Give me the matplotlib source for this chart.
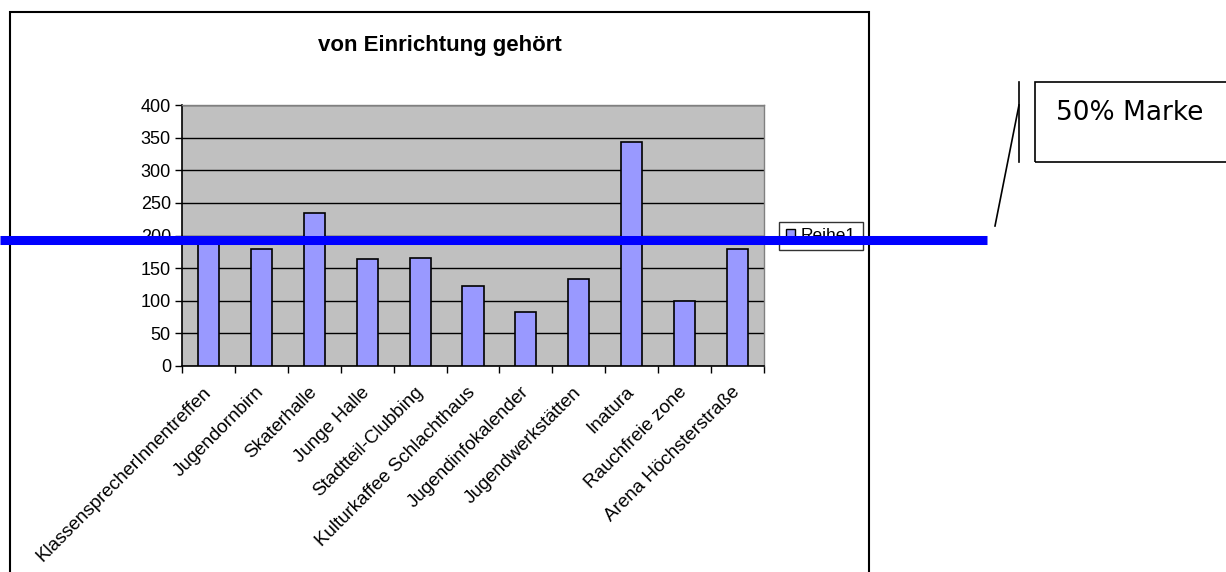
import matplotlib.pyplot as plt
from matplotlib.lines import Line2D
from matplotlib.patches import Patch, Rectangle

W, H = 1226, 572

einrichtungen = [
    "KlassensprecherInnentreffen",
    "Jugendornbirn",
    "Skaterhalle",
    "Junge Halle",
    "Stadtteil-Clubbing",
    "Kulturkaffee Schlachthaus",
    "Jugendinfokalender",
    "Jugendwerkstätten",
    "Inatura",
    "Rauchfreie zone",
    "Arena Höchsterstraße",
]
stimmen = [193, 179, 235, 164, 166, 123, 82, 134, 344, 100, 179]
y_ticks = [0, 50, 100, 150, 200, 250, 300, 350, 400]


def fx(px):
    return px / W


def fy(py):
    return 1 - py / H


plt.rcParams["font.family"] = ["Liberation Sans", "DejaVu Sans"]

fig = plt.figure(figsize=(W / 100, H / 100), dpi=100)
fig.patch.set_facecolor("white")

# Plot area
ax = fig.add_axes([fx(182), fy(366), fx(764) - fx(182), fy(105) - fy(366)])
ax.set_facecolor("#c0c0c0")
n = len(einrichtungen)
pos = list(range(n))
ax.bar(pos, stimmen, width=0.4, color="#9999ff", edgecolor="black",
       linewidth=1.2, zorder=3)
ax.set_xlim(-0.5, n - 0.5)
ax.set_ylim(0, 400)
ax.set_yticks(y_ticks)
ax.yaxis.grid(True, color="black", linewidth=1)
ax.set_axisbelow(True)

ax.set_xticks(pos)
ax.set_xticklabels(einrichtungen, rotation=45, ha="right", va="center",
                   rotation_mode="anchor", fontsize=13.5)
ax.tick_params(axis="x", which="major", length=0, pad=17)
ax.set_xticks([i - 0.5 for i in range(n + 1)], minor=True)
ax.tick_params(axis="x", which="minor", length=5, width=1, direction="out")
ax.tick_params(axis="y", length=5, width=1, direction="out", labelsize=13, pad=3)

for side in ("top", "right"):
    ax.spines[side].set_color("#808080")
    ax.spines[side].set_linewidth(1)
for side in ("left", "bottom"):
    ax.spines[side].set_color("black")
    ax.spines[side].set_linewidth(1.2)

# Title
fig.text(fx(440), fy(45), "von Einrichtung gehört", fontsize=16,
         fontweight="bold", ha="center", va="center")

# Legend
leg = fig.legend(
    handles=[Patch(facecolor="#9999ff", edgecolor="black", label="Reihe1")],
    loc="center left", bbox_to_anchor=(fx(779), fy(236)),
    frameon=True, fancybox=False, edgecolor="black", borderaxespad=0,
    handlelength=0.55, handleheight=0.55, handletextpad=0.3, borderpad=0.4,
    fontsize=12.5,
)
leg.get_frame().set_linewidth(1)

# Chart area border
fig.add_artist(Rectangle((fx(10), fy(580)), fx(869) - fx(10), fy(12) - fy(580),
                         fill=False, edgecolor="black", linewidth=1.5,
                         transform=fig.transFigure))

# 50% mark line drawn across the chart
fig.add_artist(Line2D([0, fx(987)], [fy(240), fy(240)], color="#0000ff",
                      linewidth=6.5, solid_capstyle="butt", zorder=10,
                      transform=fig.transFigure))

# Callout
fig.add_artist(Line2D([fx(1019), fx(1019)], [fy(82), fy(162)], color="black",
                      linewidth=1.2, transform=fig.transFigure))
fig.add_artist(Line2D([fx(1019), fx(995)], [fy(105), fy(226)], color="black",
                      linewidth=1.2, transform=fig.transFigure))
fig.add_artist(Rectangle((fx(1035), fy(162)), fx(1240) - fx(1035), fy(82.5) - fy(162),
                         fill=False, edgecolor="black", linewidth=1.2,
                         transform=fig.transFigure))
fig.text(fx(1056), fy(113), "50% Marke", fontsize=19, family="DejaVu Sans",
         ha="left", va="center")

fig.savefig("out.png", dpi=100)
